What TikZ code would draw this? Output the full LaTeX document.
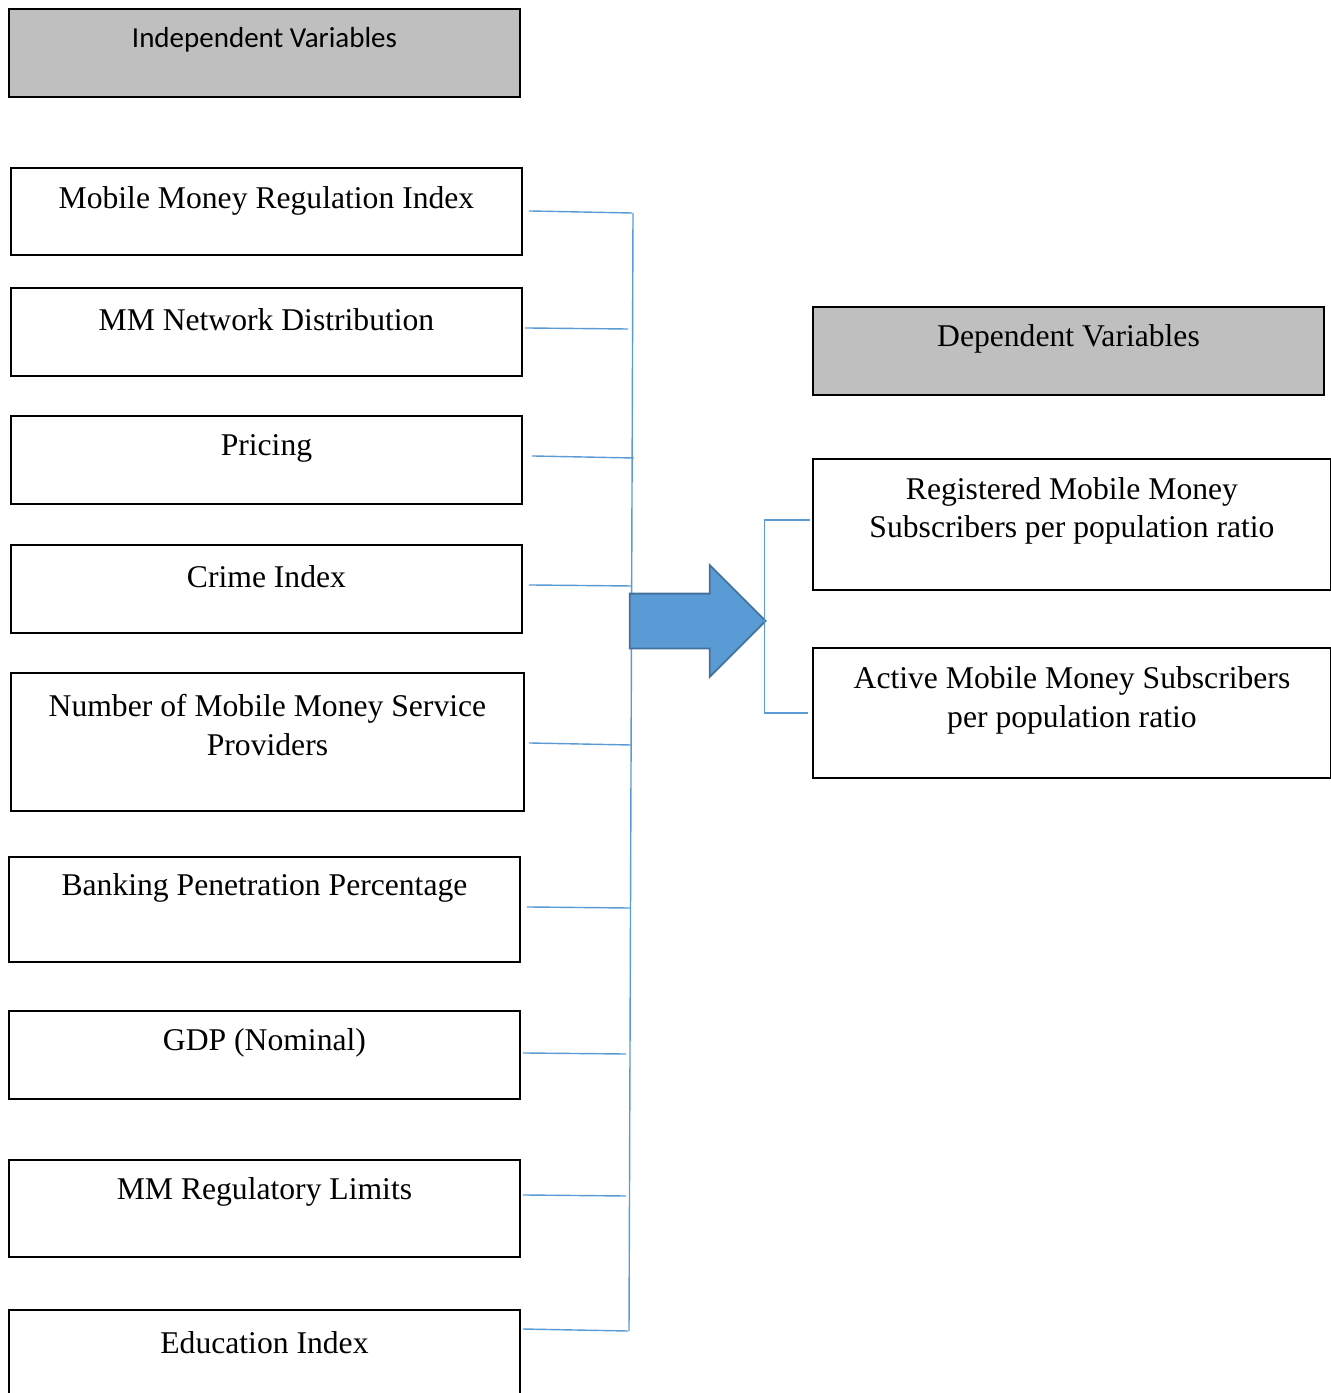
\documentclass[tikz,border=0pt]{standalone}
\usepackage{fontspec}
\setmainfont{Liberation Serif}
\newfontfamily\calibri{Carlito}
\usepackage{tikz}
\usetikzlibrary{shapes.arrows, positioning, calc}

\definecolor{boxgray}{HTML}{BFBFBF}
\definecolor{linkblue}{HTML}{5B9BD5}
\definecolor{arrowedge}{HTML}{41719C}

\tikzset{
  varbox/.style={draw, line width=1.1pt, anchor=north west, inner sep=0pt, minimum width=10.22cm},
  headbox/.style={varbox, fill=boxgray},
  vtext/.style={anchor=center, align=center, font=\fontsize{18}{22}\selectfont},
  link/.style={draw=linkblue, line width=0.8pt},
}

\begin{document}
\begin{tikzpicture}
      \useasboundingbox (0,0) rectangle (26.62,-27.86);

      % independent side
      \node[headbox, minimum height=1.76cm, label={[vtext, font=\calibri\fontsize{16.5}{20}\selectfont, yshift=-0.64cm]north:Independent Variables}] (indep) at (0.16,-0.16) {};

      \node[varbox, minimum height=1.74cm, label={[vtext, yshift=-0.68cm]north:Mobile Money Regulation Index}] (n1) at (0.20,-3.34) {};
      \node[varbox, minimum height=1.76cm, label={[vtext, yshift=-0.66cm]north:MM Network Distribution}] (n2) at (0.20,-5.74) {};
      \node[varbox, minimum height=1.76cm, label={[vtext, yshift=-0.66cm]north:Pricing}] (n3) at (0.20,-8.30) {};
      \node[varbox, minimum height=1.76cm, label={[vtext, yshift=-0.66cm]north:Crime Index}] (n4) at (0.20,-10.88) {};
      \node[varbox, minimum width=10.26cm, minimum height=2.76cm, label={[vtext, yshift=-1.06cm]north:Number of Mobile Money Service\\Providers}] (n5) at (0.20,-13.44) {};
      \node[varbox, minimum height=2.10cm, label={[vtext, yshift=-0.64cm]north:Banking Penetration Percentage}] (n6) at (0.16,-17.12) {};
      \node[varbox, minimum height=1.76cm, label={[vtext, yshift=-0.66cm]north:GDP (Nominal)}] (n7) at (0.16,-20.20) {};
      \node[varbox, minimum height=1.94cm, label={[vtext, yshift=-0.66cm]north:MM Regulatory Limits}] (n8) at (0.16,-23.18) {};
      \node[varbox, minimum height=2.20cm, label={[vtext, yshift=-0.68cm]north:Education Index}] (n9) at (0.16,-26.18) {};

      % dependent side
      \node[headbox, minimum height=1.76cm, label={[vtext, yshift=-0.66cm]north:Dependent Variables}] (dep) at (16.24,-6.12) {};
      \node[varbox, minimum width=10.36cm, minimum height=2.62cm, label={[vtext, yshift=-1.06cm]north:Registered Mobile Money\\Subscribers per population ratio}] (d1) at (16.24,-9.16) {};
      \node[varbox, minimum width=10.36cm, minimum height=2.60cm, label={[vtext, yshift=-1.07cm]north:Active Mobile Money Subscribers\\per population ratio}] (d2) at (16.24,-12.94) {};

      % bus
      \coordinate (b1) at (12.64,-4.26);
      \coordinate (b2) at (12.56,-6.58);
      \coordinate (b3) at (12.68,-9.16);
      \coordinate (b4) at (12.64,-11.72);
      \coordinate (b5) at (12.62,-14.90);
      \coordinate (b6) at (12.60,-18.16);
      \coordinate (b7) at (12.52,-21.08);
      \coordinate (b8) at (12.52,-23.92);
      \coordinate (b9) at (12.56,-26.62);

      \draw[link] (12.66,-4.26) -- (12.58,-26.62);
      \draw[link] ([shift={(0.12,0.01)}]n1.east) -- (b1);
      \draw[link] ([shift={(0.04,0.08)}]n2.east) -- (b2);
      \draw[link] ([shift={(0.18,0.08)}]n3.east) -- (b3);
      \draw[link] ([shift={(0.12,0.08)}]n4.east) -- (b4);
      \draw[link] ([shift={(0.08,-0.02)}]n5.east) -- (b5);
      \draw[link] ([shift={(0.12,0.05)}]n6.east) -- (b6);
      \draw[link] ([shift={(0.04,0.04)}]n7.east) -- (b7);
      \draw[link] ([shift={(0.04,0.27)}]n8.east) -- (b8);
      \draw[link] ([shift={(0.04,-0.40)}]n9.north east) -- (b9);

      % big arrow
      \node[single arrow, draw=arrowedge, fill=linkblue, line width=1pt, inner sep=0pt,
            text height=1.06cm, text depth=0pt,
            minimum height=2.72cm, minimum width=2.20cm, single arrow head extend=0.57cm] (arr) at (13.68,-12.42) {};
      \coordinate (tip) at (15.29,-12.40);

      \draw[link] ([shift={(-0.04,0.09)}]d1.west) -| (tip) |- ([xshift=-0.08cm]d2.west);

    \end{tikzpicture}
\end{document}
